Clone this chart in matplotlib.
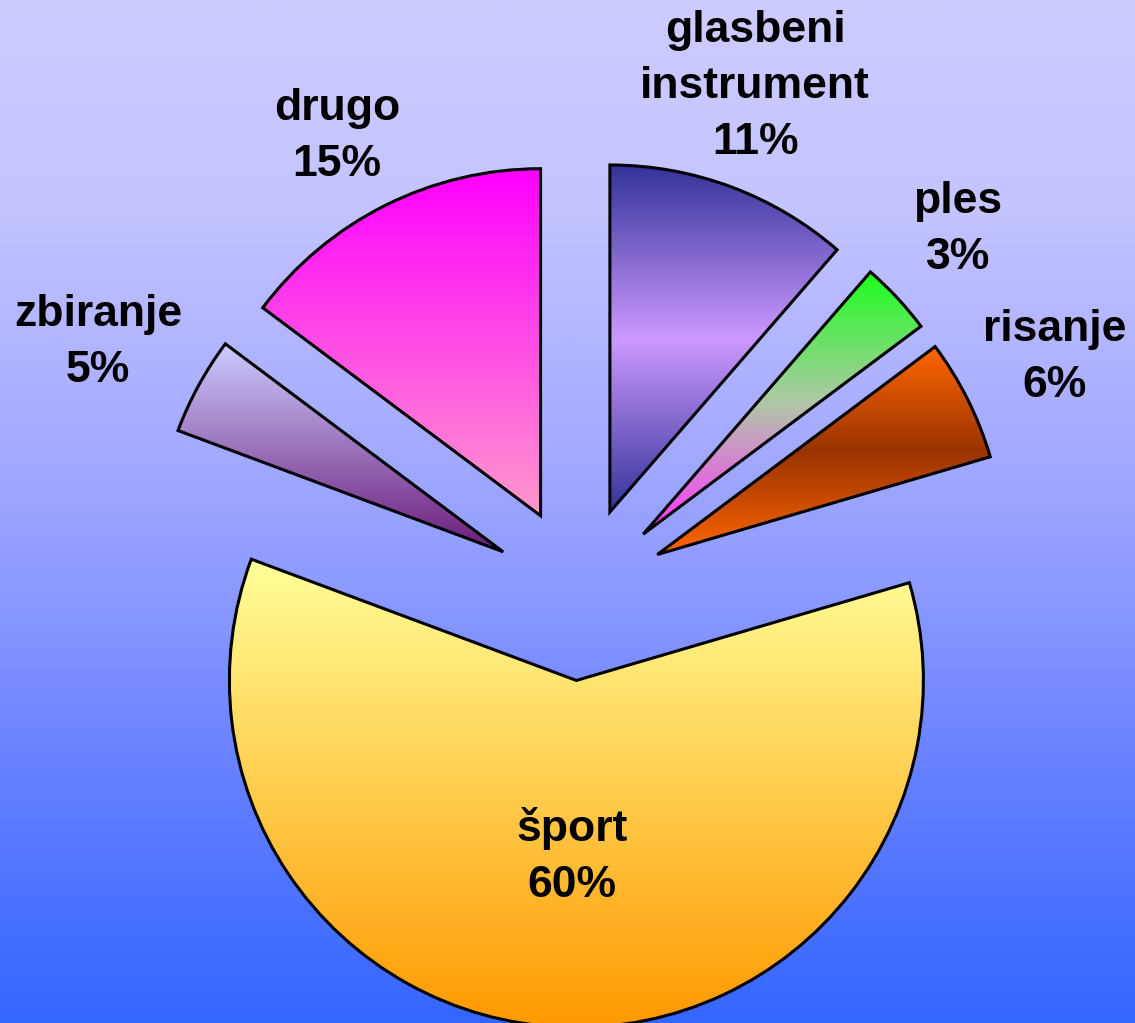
import numpy as np
import matplotlib
matplotlib.use("Agg")
import matplotlib.pyplot as plt
from matplotlib.colors import LinearSegmentedColormap

plt.rcParams['font.family'] = ['Liberation Sans', 'DejaVu Sans']

labels = ["glasbeni\ninstrument", "ples", "risanje", "šport", "zbiranje", "drugo"]
counts = [10, 3, 5, 53, 4, 13]
# vertical gradient per slice (top -> bottom)
slice_colors = [
    ["#333399", "#cc99ff", "#333399"],
    ["#1aff1a", "#b0c8a8", "#ff33ff"],
    ["#ff6600", "#993300", "#ff6600"],
    ["#ffff99", "#ff9900"],
    ["#ccccff", "#6a1a78"],
    ["#ff00ff", "#ff99cc"],
]
bg_stops = [(0.0, "#ccccff"), (0.2, "#c4c4ff"), (0.4, "#a9aeff"),
            (0.58, "#8c9aff"), (0.73, "#6b83ff"), (1.0, "#3366ff")]
# label placement: radius factor from pie centre, angle shift from slice middle
label_r = [1.547, 1.514, 1.529, 0.759, 1.565, 1.490]
label_da = [1.36, 0.95, -0.22, 0.41, 1.13, 1.38]

W, H = 1135, 1023
R = 347
cx, cy = 579.5, 429.5
expl = 87

fig = plt.figure(figsize=(W / 100, H / 100), dpi=100)
ax = fig.add_axes([0, 0, 1, 1])

# background
bg = LinearSegmentedColormap.from_list("bg", bg_stops)
ax.imshow(np.linspace(0, 1, 512).reshape(-1, 1), cmap=bg, extent=(0, W, 0, H),
          origin="upper", aspect="auto", zorder=0)

wedges, _ = ax.pie(counts, explode=[expl] * len(counts), radius=R, center=(cx, cy),
                   startangle=90, counterclock=False,
                   wedgeprops=dict(edgecolor="black", linewidth=2.2, facecolor="none"))

total = sum(counts)
grad = np.linspace(0, 1, 256).reshape(-1, 1)
for w, cols, lab, n, lr, da in zip(wedges, slice_colors, labels, counts, label_r, label_da):
    w.set_zorder(3)
    ext = w.get_path().get_extents()
    cm = LinearSegmentedColormap.from_list("s", cols)
    im = ax.imshow(grad, cmap=cm, extent=(ext.x0, ext.x1, ext.y0, ext.y1),
                   origin="upper", aspect="auto", zorder=2)
    im.set_clip_path(w)

    th = np.deg2rad((w.theta1 + w.theta2) / 2 + da)
    pct = int(100 * n / total + 0.5)
    ax.text(cx + lr * R * np.cos(th), cy + lr * R * np.sin(th), f"{lab}\n{pct}%",
            ha="center", va="center", multialignment="center",
            fontsize=32, fontweight="bold", linespacing=1.47, zorder=4)

ax.set_xlim(0, W)
ax.set_ylim(0, H)
ax.set_aspect("auto")
ax.axis("off")

fig.savefig("out.png", dpi=100)
